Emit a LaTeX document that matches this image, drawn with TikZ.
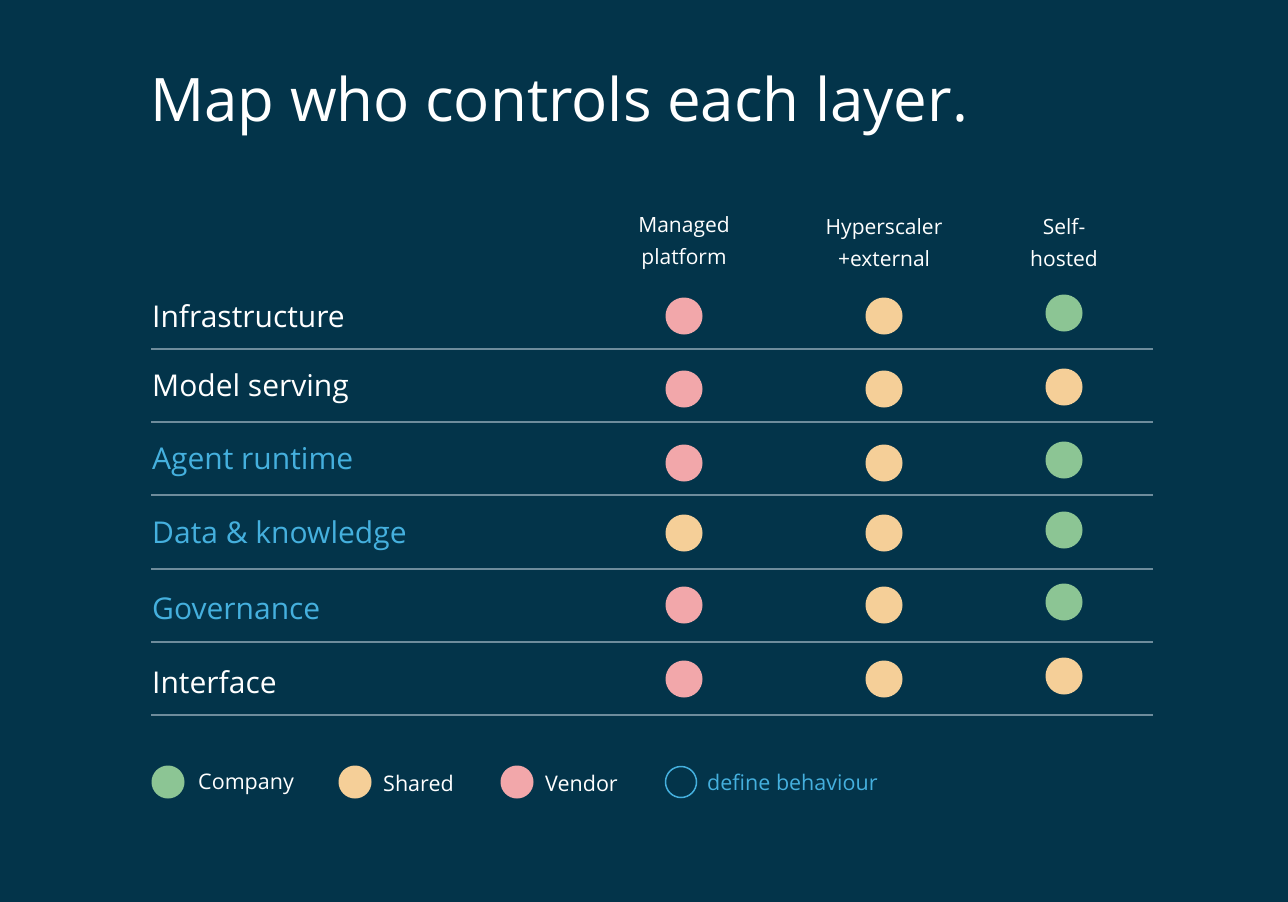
\documentclass[tikz,border=0pt]{standalone}
\usepackage{fontspec}
\setmainfont{Open Sans}
\definecolor{bg}{HTML}{03344A}
\definecolor{rule}{HTML}{6E8C9C}
\definecolor{pk}{HTML}{F2A7AA}
\definecolor{og}{HTML}{F5CF98}
\definecolor{gr}{HTML}{8CC594}
\definecolor{bl}{HTML}{45B0DE}
\begin{document}
\begin{tikzpicture}[x=1pt,y=-1pt,
  row/.style={anchor=west,font=\fontsize{30}{36}\selectfont,inner sep=0pt},
  hd/.style={align=center,text=white,font=\fontsize{21}{32}\selectfont},
  dot/.style={circle,minimum size=37pt,inner sep=0pt},
  ldot/.style={circle,minimum size=33pt,inner sep=0pt},
  leg/.style={anchor=west,inner sep=0pt,font=\fontsize{21.5}{26}\selectfont}]
\fill[bg] (0,0) rectangle (1288,902);
\useasboundingbox (0,0) rectangle (1288,902);
\node[anchor=west,inner sep=0pt,text=white,font=\fontsize{60}{70}\selectfont] (title) at (150,106) {Map who controls each layer.};
\node[hd] (h1) at (684,243) {Managed\\platform};
\node[hd] (h2) at (884,243) {Hyperscaler\\+external};
\node[hd] (h3) at (1064,243) {Self-\\hosted};
\foreach \t/\c/\y [count=\i] in {Infrastructure/white/316, Model serving/white/389, Agent runtime/bl/462, Data \& knowledge/bl/536, Governance/bl/609, Interface/white/682}{
  \node[row,text=\c] (r\i) at (152,\y) {\t};
  \draw[rule,line width=1.2pt] (151,\y+33) -- (1153,\y+33);
}
\foreach \a/\b/\c/\y/\yy [count=\i] in {pk/og/gr/316/313, pk/og/og/389/387, pk/og/gr/463/460, og/og/gr/533/530, pk/og/gr/605/602, pk/og/og/679/676}{
  \node[dot,fill=\a] (m\i) at (684,\y) {};
  \node[dot,fill=\b] (p\i) at (884,\y) {};
  \node[dot,fill=\c] (s\i) at (1064,\yy) {};
}
\node[ldot,fill=gr] (lc) at (168,782) {};
\node[leg,text=white] (tc) at (198,784) {Company};
\node[ldot,fill=og] (ls) at (355,782) {};
\node[leg,text=white] (ts) at (383,783) {Shared};
\node[ldot,fill=pk] (lv) at (517,782) {};
\node[leg,text=white] (tv) at (545,783) {Vendor};
\node[ldot,draw=bl,line width=1.5pt,minimum size=31pt] (ld) at (681,782) {};
\node[leg,text=bl] (td) at (707,782) {define behaviour};
\end{tikzpicture}
\end{document}
